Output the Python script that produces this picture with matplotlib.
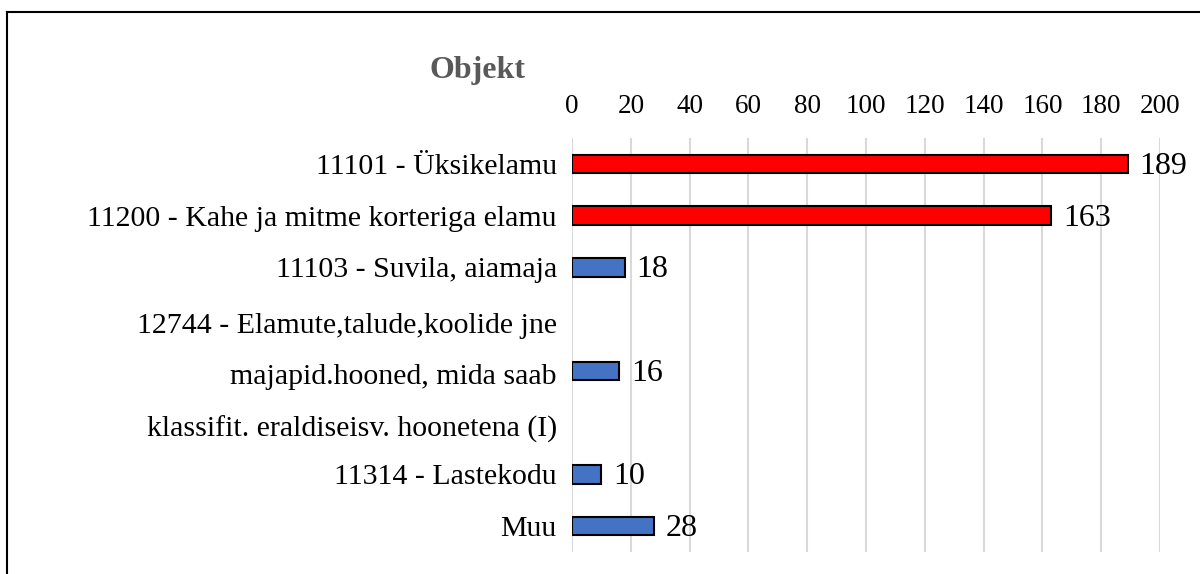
import numpy as np
import matplotlib.pyplot as plt
from matplotlib.lines import Line2D
from matplotlib.transforms import ScaledTranslation

plt.rcParams['font.family'] = ['Liberation Serif', 'DejaVu Serif']

# Andmed
kategooriad = ['11101 - Üksikelamu',
               '11200 - Kahe ja mitme korteriga elamu',
               '11103 - Suvila, aiamaja',
               '12744 - Elamute,talude,koolide jne\nmajapid.hooned, mida saab\nklassifit. eraldiseisv. hoonetena (I)',
               '11314 - Lastekodu',
               'Muu']
vaartused = [189, 163, 18, 16, 10, 28]
varvid = ['#ff0000', '#ff0000', '#4472c4', '#4472c4', '#4472c4', '#4472c4']
# rea kohad (mitmerealine silt võtab rohkem ruumi)
kohad = [0, 1, 2, 4, 6, 7]

fig = plt.figure(figsize=(12, 5.74), dpi=100)
ax = fig.add_axes([0.4767, 0.0383, 0.49, 0.7213])

ax.barh(kohad, vaartused, height=0.36, color=varvid, edgecolor='black', linewidth=1.5, zorder=3)

for k, v in zip(kohad, vaartused):
    ax.text(v + 4, k + 0.05, str(v), va='center', ha='left', fontsize=23, zorder=4)

ax.set_xlim(0, 200)
ax.set_ylim(7.5, -0.5)
ax.set_xticks(np.arange(0, 201, 20))
ax.xaxis.tick_top()
ax.tick_params(axis='x', length=0, labelsize=19.5, pad=14)
ax.set_yticks(kohad)
ax.set_yticklabels(kategooriad, fontsize=21.5, linespacing=2.25)
ax.tick_params(axis='y', length=0, pad=11)
# mitmerealine silt veidi ülespoole
for lbl in ax.get_yticklabels():
    if '\n' in lbl.get_text():
        lbl.set_transform(lbl.get_transform() + ScaledTranslation(0, 9 / 100, fig.dpi_scale_trans))
ax.grid(axis='x', color='#d9d9d9', linewidth=1.5, zorder=0)
for s in ax.spines.values():
    s.set_visible(False)

fig.text(0.398, 0.878, 'Objekt', fontsize=23, fontweight='bold', color='#595959', ha='center', va='center')

# raam ümber joonise
fig.add_artist(Line2D([0.006, 0.006], [0, 0.979], color='black', linewidth=1.5, transform=fig.transFigure))
fig.add_artist(Line2D([0.006, 1.0], [0.979, 0.979], color='black', linewidth=1.5, transform=fig.transFigure))

fig.savefig('out.png', dpi=100)
